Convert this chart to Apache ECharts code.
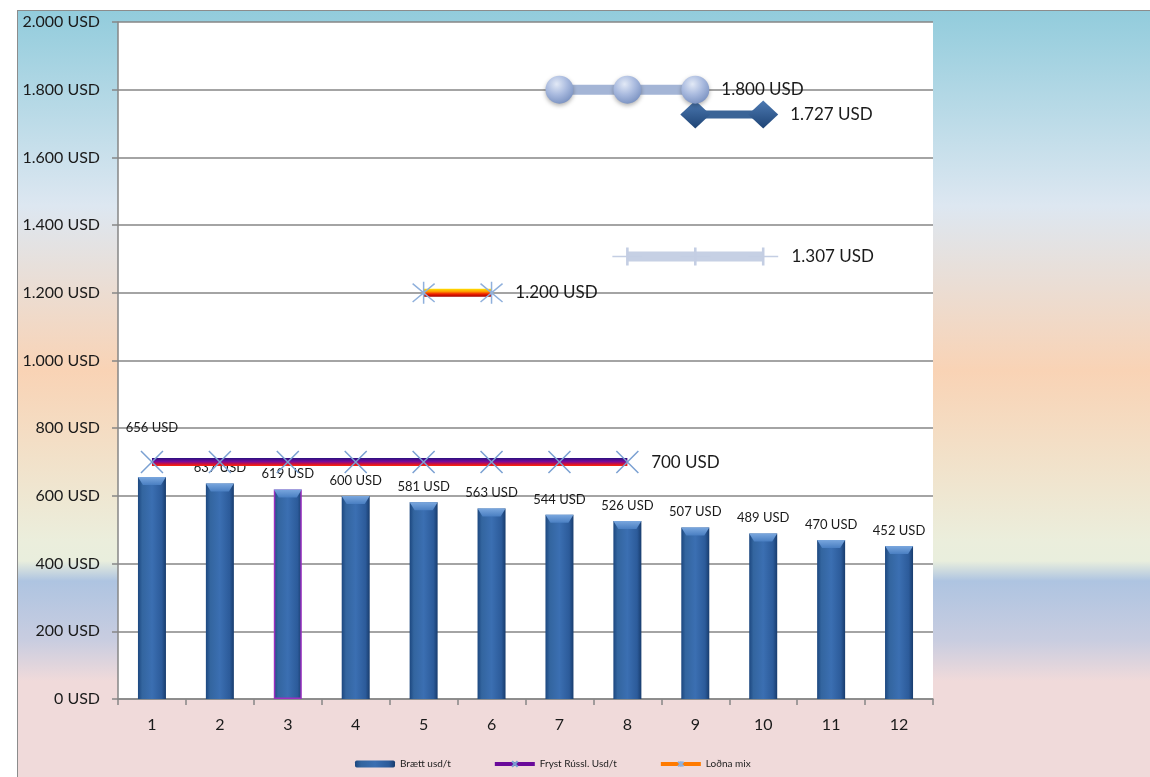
<!DOCTYPE html>
<html><head><meta charset="utf-8">
<script src="https://cdn.jsdelivr.net/npm/echarts@6/dist/echarts.min.js"></script>
<style>
html,body{margin:0;padding:0;background:#fff;width:1150px;height:777px;overflow:hidden;position:relative;}
#frame{position:absolute;left:17px;top:10px;width:1133px;height:767px;border:1px solid #8c8c8c;border-right:none;border-bottom:none;box-sizing:border-box;
background:linear-gradient(to bottom,#92ccdc 0px,#dde7f1 195px,#f9d3b5 360px,#ebeedc 530px,#e9eedd 550px,#aec4e1 570px,#c9cde0 630px,#f0dada 670px,#f0dada 100%);}
#chart{position:absolute;left:0;top:0;width:1150px;height:777px;}
</style></head>
<body>
<div id="frame"></div>
<div id="chart"></div>
<script>
const categories = ['1','2','3','4','5','6','7','8','9','10','11','12'];
const brettValues = [656,637,619,600,581,563,544,526,507,489,470,452];
const frystValues = [700,700,700,700,700,700,700,700,null,null,null,null];
const lodnaValues = [null,null,null,null,1200,1200,null,null,null,null,null,null];
const circleValues = [null,null,null,null,null,null,1800,1800,1800,null,null,null];
const diamondValues = [null,null,null,null,null,null,null,null,1727,1727,null,null];
const plusValues = [null,null,null,null,null,null,null,1307,1307,1307,null,null];
const seriesNames = ['Brætt usd/t','Fryst Rússl. Usd/t','Loðna mix'];

function usd(v){ return String(v).replace(/\B(?=(\d{3})+(?!\d))/g,'.') + ' USD'; }
function lastIdx(arr){ let k=-1; arr.forEach((v,i)=>{ if(v!==null) k=i; }); return k; }
function lastLabel(arr, size){
  const li = lastIdx(arr);
  return {show:true, position:'right', distance:12, color:'#1a1a1a', fontSize:size, fontFamily:'Lato',
    formatter: p => p.dataIndex===li ? usd(p.value) : ''};
}

const chart = echarts.init(document.getElementById('chart'));
const textFont = 'Lato';

const barGrad = new echarts.graphic.LinearGradient(0,0,1,0,[
  {offset:0,color:'#1c477f'},{offset:0.15,color:'#33659f'},{offset:0.5,color:'#3b6fb2'},{offset:0.85,color:'#2c5b9a'},{offset:1,color:'#183c6d'}]);
const bevelGrad = new echarts.graphic.LinearGradient(0,0,0,1,[
  {offset:0,color:'#7aa7de'},{offset:1,color:'#4a7fc2'}]);

const option = {
  animation:false,
  backgroundColor:'transparent',
  textStyle:{fontFamily:textFont},
  grid:{left:118,right:217,top:22,bottom:78,show:true,backgroundColor:'#ffffff',borderWidth:0},
  legend:{
    top:754,left:350,itemGap:42,itemWidth:40,itemHeight:7,
    textStyle:{fontSize:10,color:'#222',fontFamily:textFont},
    data:[
      {name:seriesNames[0]},
      {name:seriesNames[1], itemStyle:{color:'#7aa0d2'}, lineStyle:{color:'#6a0a9a',width:4}},
      {name:seriesNames[2], itemStyle:{color:'#7aa0d2'}, lineStyle:{color:'#ff7a00',width:4}}
    ]
  },
  xAxis:{
    type:'category',data:categories,boundaryGap:true,
    axisLine:{lineStyle:{color:'#868686',width:1.5}},
    axisTick:{show:true,length:6,lineStyle:{color:'#868686',width:1.5}},
    axisLabel:{fontSize:16,color:'#1a1a1a',margin:18,fontFamily:textFont}
  },
  yAxis:{
    type:'value',min:0,max:2000,interval:200,
    axisLine:{show:true,lineStyle:{color:'#868686',width:1.5}},
    axisTick:{show:true,length:6,lineStyle:{color:'#868686',width:1.5}},
    axisLabel:{formatter:v=>usd(v),fontSize:16,color:'#1a1a1a',margin:18,fontFamily:textFont},
    splitLine:{lineStyle:{color:'#868686',width:1.5}}
  },
  series:[
    {
      name:seriesNames[0],type:'bar',barWidth:28,
      data:brettValues.map((v,i)=>{
        const d={value:v};
        if(i===0) d.label={offset:[0,-34]};
        if(i===2) d.itemStyle={borderColor:'#9b30c0',borderWidth:1.5};
        return d;
      }),
      itemStyle:{color:barGrad},
      label:{show:true,position:'top',distance:9,color:'#1a1a1a',fontSize:13,fontFamily:textFont,formatter:p=>usd(p.value)},
      z:2
    },
    {
      name:'bevel',type:'pictorialBar',data:brettValues,barWidth:28,barGap:'-100%',
      symbol:'path://M0,0L28,0L23,8L5,8Z',symbolSize:[28,8],symbolPosition:'end',symbolOffset:[0,0],
      itemStyle:{color:bevelGrad},z:3,silent:true
    },
    {
      name:seriesNames[1],type:'line',data:frystValues,
      symbol:'path://M0,0L20,20M20,0L0,20',symbolSize:22,
      itemStyle:{color:'rgba(0,0,0,0)',borderColor:'#7aa0d2',borderWidth:1.5},
      lineStyle:{width:8,color:'#6a0a9a'},
      label:lastLabel(frystValues,17),z:4
    },
    {
      name:seriesNames[2],type:'line',data:lodnaValues,
      symbol:'path://M0,0L20,20M20,0L0,20M10,-2L10,22',symbolSize:22,
      itemStyle:{color:'rgba(0,0,0,0)',borderColor:'#8fb0dc',borderWidth:1.5},
      lineStyle:{width:8,color:'#ff7a00'},
      label:lastLabel(lodnaValues,17),z:4
    },
    {
      name:'s1800',type:'line',data:circleValues,
      symbol:'circle',symbolSize:28,
      itemStyle:{color:new echarts.graphic.RadialGradient(0.4,0.3,0.75,[{offset:0,color:'#e2e9f6'},{offset:0.5,color:'#aabbdf'},{offset:1,color:'#7890c0'}]),
        shadowColor:'rgba(0,0,0,0.3)',shadowBlur:4,shadowOffsetY:2},
      lineStyle:{width:10,color:'#a4b5d6'},
      label:lastLabel(circleValues,17),z:5
    },
    {
      name:'s1727',type:'line',data:diamondValues,
      symbol:'diamond',symbolSize:[30,28],
      itemStyle:{color:new echarts.graphic.LinearGradient(0,0,0,1,[{offset:0,color:'#4d7ab3'},{offset:1,color:'#1e4475'}])},
      lineStyle:{width:8,color:'#3a6497'},
      label:lastLabel(diamondValues,17),z:4
    },
    {
      name:'s1307',type:'line',data:plusValues,
      symbol:'path://M10,0L10,20M0,10L20,10',symbolSize:[30,18],
      itemStyle:{color:'rgba(0,0,0,0)',borderColor:'#c4cee3',borderWidth:2},
      lineStyle:{width:10,color:'#c6d0e4'},
      label:lastLabel(plusValues,17),z:4
    }
  ]
};
chart.setOption(option);

function grad(v, stops, half){
  const y = chart.convertToPixel({yAxisIndex:0}, v);
  return new echarts.graphic.LinearGradient(0, y-half, 0, y+half, stops, true);
}
chart.setOption({series:[
  {},{},
  {lineStyle:{color:grad(700,[{offset:0,color:'#2a1080'},{offset:0.45,color:'#7a0a9a'},{offset:0.75,color:'#d0103a'},{offset:1,color:'#ff2a00'}],4)}},
  {lineStyle:{color:grad(1200,[{offset:0,color:'#ffe000'},{offset:0.35,color:'#ff9a00'},{offset:0.65,color:'#f02000'},{offset:1,color:'#a00000'}],4)}},
  {},{},{}
]});
</script>
</body></html>
